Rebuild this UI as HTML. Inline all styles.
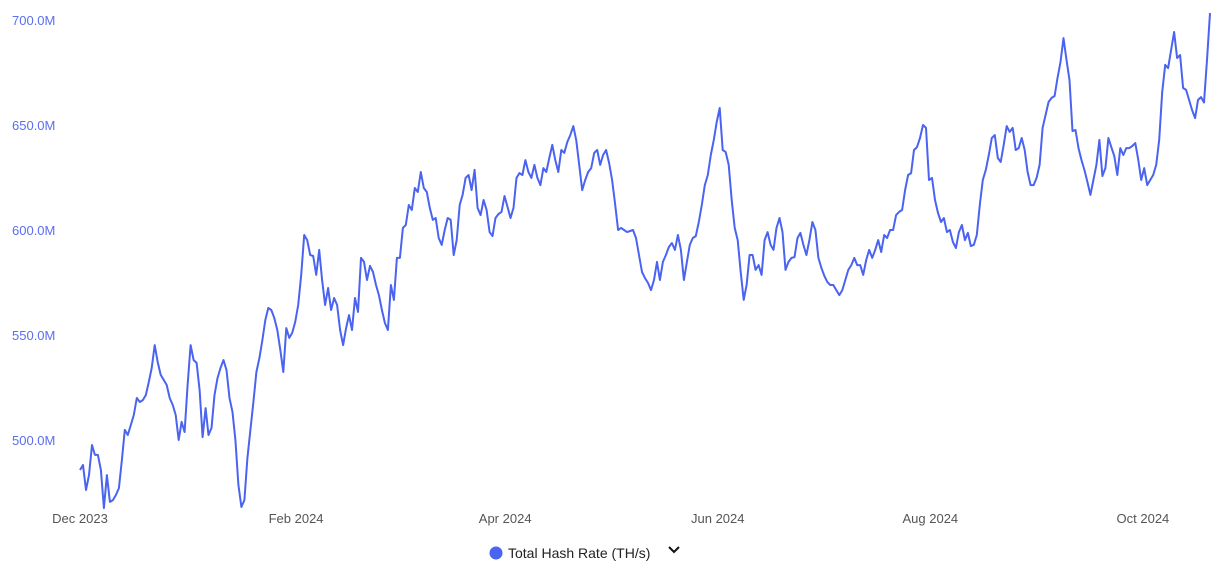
<!DOCTYPE html>
<html><head><meta charset="utf-8">
<style>
body{margin:0;background:#fff;width:1223px;height:575px;overflow:hidden;font-family:"Liberation Sans",sans-serif}
svg{display:block}
</style></head>
<body>
<svg id="chart" width="1223" height="575" xmlns="http://www.w3.org/2000/svg">
<g id="yaxis"></g>
<g id="xaxis"></g>
<path id="line" fill="none" stroke="#4a63f0" stroke-width="2" stroke-linejoin="round"/>
<g>
<circle cx="496" cy="553" r="6.5" fill="#4a63f0"/>
<text x="508" y="558" font-size="14" fill="#222">Total Hash Rate (TH/s)</text>
<path d="M669 547 L674 552 L679 547" fill="none" stroke="#111" stroke-width="2"/>
</g>
</svg>
<script>
const yTicks=[500,550,600,650,700];
const yTickLabels=["500.0M","550.0M","600.0M","650.0M","700.0M"];
const xTickDays=[0,62,122,183,244,305];
const xTickLabels=["Dec 2023","Feb 2024","Apr 2024","Jun 2024","Aug 2024","Oct 2024"];
const hashRate=[485.7,488.1,476.2,483.3,497.6,492.9,492.9,485.7,467.6,483.3,470.5,471.4,473.8,477.1,490.5,504.8,502.4,507.1,511.9,520,518.1,519,521.4,527.6,534.3,545.2,537.1,531,528.6,526.2,520,516.7,511.9,500,508.6,503.8,526.2,545.2,538.1,536.7,523.8,501.4,515.2,502.4,505.7,521.4,529.5,534.3,538.1,533.3,520,513.3,500,478.6,468.1,471.4,491.4,504.8,518.1,532.4,539,547.6,557.1,562.9,561.9,558.1,552.4,542.9,532.4,553.3,548.6,551,556.2,564.3,578.6,597.6,595.2,588.1,587.6,578.6,590.5,576.2,564.3,572.4,561.9,567.6,564.3,552.4,545.2,553.3,559.5,552.4,567.6,561,586.7,584.8,576.2,582.9,580,573.8,569,561.9,555.7,552.4,573.8,566.7,586.7,586.7,601,602.4,611.9,609.5,620,618.1,627.6,620,618.1,610.5,604.8,605.7,596.2,592.9,600,605.7,604.8,588.1,595.2,611.9,616.7,624.8,626.2,619,628.6,610.5,607.1,614.3,609.5,599,597.1,605.7,607.6,608.6,616.2,611,605.7,610.5,624.8,627.1,626.2,633.3,627.6,624.8,631,624.8,621.4,629.5,627.6,634.3,640.5,633.3,627.6,638.1,636.7,641.9,645.2,649.5,642.9,631,619,623.8,627.6,629.5,636.7,638.1,631,635.7,638.1,631.9,623.8,612.4,600,601,600,599,599.5,600,596.2,588.1,580,577.1,574.8,571.4,576.2,584.8,576.2,584.8,588.1,591.9,593.8,590.5,597.6,590.5,576.2,584.8,592.9,596.2,597.1,603.8,611.9,621.4,626.2,635.7,642.9,651.4,658.1,638.1,637.1,631,614.3,601,595.2,580,566.7,573.8,588.1,588.1,581,583.3,578.6,595.2,599,592.9,590.5,601,605.7,599,581,584.8,586.7,587.1,596.2,598.6,592.9,588.1,595.2,603.8,600,586.7,581.9,578.1,575.2,573.8,573.8,571.4,569,571.4,576.2,581,583.3,586.7,583.3,583.3,578.6,585.7,590.5,586.7,590.5,595.2,589.5,597.6,596.2,600,600,607.1,608.6,609.5,619,626.2,627.1,638.1,639.5,643.8,650,648.6,623.8,624.8,614.3,608.1,603.8,605.7,599,600,594.3,591.4,599,602.4,595.2,598.6,592.4,592.9,597.6,611.9,623.8,628.6,635.7,643.8,645.2,634.3,632.4,640.5,649.5,646.7,648.6,638.1,639,643.8,638.1,627.6,621.4,621.4,624.8,631,648.6,654.8,661,662.9,663.8,672.4,680,691.4,681,671.4,647.1,647.6,639,633.3,628.6,622.9,616.7,623.8,631,642.9,625.7,629.5,643.8,639.5,635.2,626.2,639,635.7,639,639,640,641.4,633.3,623.8,629.5,621.4,623.8,626.2,631,642.9,665.7,678.6,677.1,685.7,694.3,681.9,683.3,667.6,666.7,661.9,657.1,653.3,661.9,663.3,660.7,681,703.3];

const NS="http://www.w3.org/2000/svg";
const X0=80,X1=1210;
function yScale(v){return 440-(v-500)*2.1;}
function xDay(d){return X0+d*3.485;}
function xIdx(i){return X0+i*(X1-X0)/(hashRate.length-1);}

const ya=document.getElementById('yaxis');
yTicks.forEach((t,i)=>{
  const tx=document.createElementNS(NS,'text');
  
  
  tx.setAttribute('x',12);tx.setAttribute('y',yScale(t)+5);
  tx.setAttribute('font-size','13');tx.setAttribute('fill','#5a6ff0');
  tx.textContent=yTickLabels[i];ya.appendChild(tx);
});
const xa=document.getElementById('xaxis');
xTickDays.forEach((d,i)=>{
  const tx=document.createElementNS(NS,'text');
  
  
  tx.setAttribute('x',xDay(d));tx.setAttribute('y',523);
  tx.setAttribute('text-anchor','middle');
  tx.setAttribute('font-size','13');tx.setAttribute('fill','#555');
  tx.textContent=xTickLabels[i];xa.appendChild(tx);
});
document.getElementById('line').setAttribute('d',hashRate.map((v,i)=>(i?'L':'M')+xIdx(i).toFixed(1)+' '+yScale(v).toFixed(1)).join(' '));
</script>
</body></html>
